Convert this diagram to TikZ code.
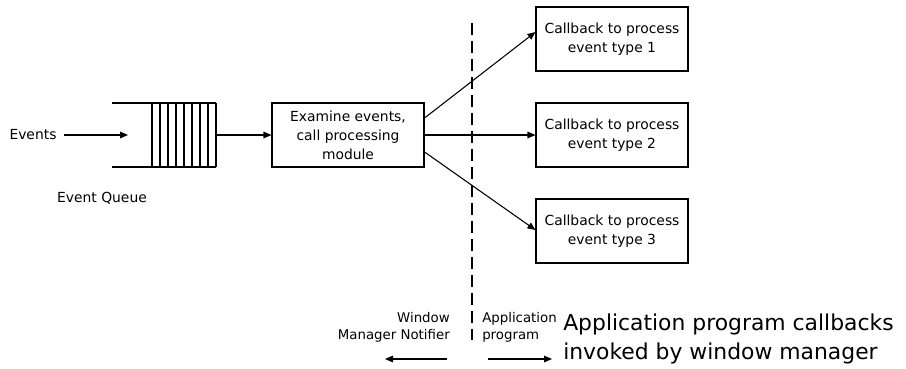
\documentclass[tikz,border=0pt]{standalone}
\usepackage{fontspec}
\setmainfont{DejaVu Sans}
\usetikzlibrary{arrows.meta}

\tikzset{
  box/.style={draw, line width=0.8pt, minimum width=114pt, minimum height=48pt,
    align=center, inner sep=0pt, font=\fontsize{10.4}{14.2}\selectfont},
  lbl/.style={inner sep=0pt, font=\fontsize{10.4}{14.2}\selectfont},
  side/.style={inner sep=0pt, font=\fontsize{10}{12.5}\selectfont},
  arr/.style={line width=0.8pt, -{Triangle[length=6pt,width=5pt]}},
}

\begin{document}
\begin{tikzpicture}[x=0.75pt,y=-0.75pt]
    \useasboundingbox (0,0) rectangle (906,368);

    \coordinate (qin) at (128,135) ;
    \coordinate (qout) at (216,135) ;
    \coordinate (wmL) at (385,359) ;
    \coordinate (wmR) at (447,359) ;
    \coordinate (apL) at (488,359) ;
    \coordinate (apR) at (552,359) ;

    \node[lbl] (events) at (33,135) {Events};
    \node[lbl] (evq) at (102,198) {Event Queue};

    % queue
    \draw[line width=0.8pt] (112,103) -- (216,103);
    \draw[line width=0.8pt] (112,167) -- (216,167);
    \foreach \x in {152,160,...,216}
        \draw[line width=0.8pt] (\x,103) -- (\x,167);

    \node[box] (exam) at (348,135) {Examine events,\\call processing\\module};
    \node[box] (cb1) at (612,39) {Callback to process\\event type 1};
    \node[box] (cb2) at (612,135) {Callback to process\\event type 2};
    \node[box] (cb3) at (612,231) {Callback to process\\event type 3};

    \draw[arr] (events.east) ++(7,0) coordinate (evs) -- (qin);
    \draw[arr] (qout) -- (exam.west);
    \draw[arr] ([yshift=12.75pt]exam.east) -- ([yshift=5.25pt]cb1.west);
    \draw[arr] (exam.east) -- (cb2.west);
    \draw[arr] ([yshift=-12.75pt]exam.east) -- ([yshift=0.75pt]cb3.west);

    % boundary
    \draw[line width=1.4pt, dash pattern=on 9pt off 4.5pt] (472,23) -- (472,340);

    \node[side, anchor=east, align=right] (wmn) at (450,327) {Window\\Manager Notifier};
    \node[side, anchor=west, align=left] (app) at (482,327) {Application\\program};
    \draw[arr] (wmR) -- (wmL);
    \draw[arr] (apL) -- (apR);

    \node[anchor=west, align=left, inner sep=0pt, font=\fontsize{16.4}{21.75}\selectfont] (note) at (563,339) {Application program callbacks\\invoked by window manager};
\end{tikzpicture}
\end{document}
